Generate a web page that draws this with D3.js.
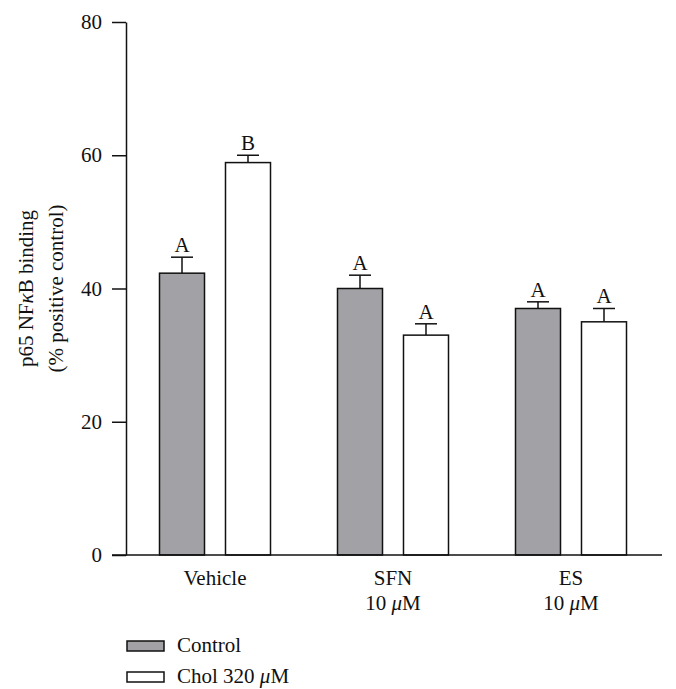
<!DOCTYPE html>
<html>
<head>
<meta charset="utf-8">
<script src="https://cdn.jsdelivr.net/npm/d3@7"></script>
<style>
  body { margin: 0; background: #fff; }
  text { font-family: "Liberation Serif", "DejaVu Serif", serif; fill: #111; }
</style>
</head>
<body>
<div class="chart"></div>
<script>
// data
const groups = ["Vehicle", "SFN", "ES"];
const groupSub = ["", "10 μM", "10 μM"];
const series = ["Control", "Chol 320 μM"];
const controlVals = [42.3, 40, 37];
const cholVals = [58.9, 33, 35];
const controlErr = [2.4, 2.0, 1.0];
const cholErr = [1.1, 1.7, 2.0];
const controlLetters = ["A", "A", "A"];
const cholLetters = ["B", "A", "A"];
const yTicks = [0, 20, 40, 60, 80];

const svgWidth = 676, svgHeight = 689;
const margin = {top: 22, left: 126, right: 16, bottom: 134};
const chartHeight = svgHeight - margin.top - margin.bottom;
const fs = "21px";

const colors = {"Control": "#a2a2a6", "Chol 320 μM": "#ffffff"};

const svg = d3.select(".chart").append("svg")
  .attr("width", svgWidth)
  .attr("height", svgHeight);

const chart = svg.append("g")
  .attr("transform", `translate(${margin.left},${margin.top})`);

const y = d3.scaleLinear().domain([0, 80]).range([chartHeight, 0]);

const x0 = d3.scaleBand().domain(groups).range([0, 534]).padding(0);
const pairWidth = 111;
const x1 = d3.scaleBand().domain(series).range([0, pairWidth]).paddingInner(0.318).paddingOuter(0);

const rows = [];
groups.forEach((g, i) => {
  rows.push({group: g, s: series[0], v: controlVals[i], e: controlErr[i], l: controlLetters[i]});
  rows.push({group: g, s: series[1], v: cholVals[i], e: cholErr[i], l: cholLetters[i]});
});
const bx = d => x0(d.group) + (x0.bandwidth() - pairWidth) / 2 + x1(d.s);

// error bars (upper only)
const capHalf = 11;
chart.selectAll(".err").data(rows).enter().append("line")
  .attr("x1", d => bx(d) + x1.bandwidth() / 2)
  .attr("x2", d => bx(d) + x1.bandwidth() / 2)
  .attr("y1", d => y(d.v))
  .attr("y2", d => y(d.v + d.e))
  .attr("stroke", "#111").attr("stroke-width", 1.5);
chart.selectAll(".cap").data(rows).enter().append("line")
  .attr("x1", d => bx(d) + x1.bandwidth() / 2 - capHalf)
  .attr("x2", d => bx(d) + x1.bandwidth() / 2 + capHalf)
  .attr("y1", d => y(d.v + d.e))
  .attr("y2", d => y(d.v + d.e))
  .attr("stroke", "#111").attr("stroke-width", 1.5);

// bars
chart.selectAll("rect.bar").data(rows).enter().append("rect")
  .attr("class", "bar")
  .attr("x", d => bx(d))
  .attr("y", d => y(d.v))
  .attr("width", x1.bandwidth())
  .attr("height", d => chartHeight - y(d.v))
  .attr("fill", d => colors[d.s])
  .attr("stroke", "#111").attr("stroke-width", 1.5);

// letters
chart.selectAll(".letter").data(rows).enter().append("text")
  .attr("x", d => bx(d) + x1.bandwidth() / 2)
  .attr("y", d => y(d.v + d.e) - 5)
  .attr("text-anchor", "middle")
  .style("font-size", fs)
  .text(d => d.l);

// axes
const leftAxis = d3.axisLeft(y).tickValues(yTicks).tickSize(14).tickPadding(10).tickSizeOuter(0);
const gy = chart.append("g").call(leftAxis);
gy.select(".domain").attr("stroke", "#111").attr("stroke-width", 1.5);
gy.selectAll(".tick line").attr("stroke", "#111").attr("stroke-width", 1.5);
gy.selectAll(".tick text").style("font-size", fs).attr("fill", "#111")
  .style("font-family", '"Liberation Serif", serif');

// x axis line from tick start to right end
chart.append("line")
  .attr("x1", -14).attr("x2", 536)
  .attr("y1", chartHeight).attr("y2", chartHeight)
  .attr("stroke", "#111").attr("stroke-width", 1.5);

// group labels
const gl = chart.selectAll(".glabel").data(groups).enter().append("text")
  .attr("text-anchor", "middle")
  .attr("transform", d => `translate(${x0(d) + x0.bandwidth() / 2},${chartHeight + 30})`)
  .style("font-size", fs);
gl.append("tspan").attr("x", 0).attr("dy", 0).text(d => d);
gl.append("tspan").attr("x", 0).attr("dy", 25)
  .html((d, i) => groupSub[i] ? '10 <tspan font-style="italic">μ</tspan>M' : "");

// y title
const yt = chart.append("text")
  .attr("transform", `translate(-93,${chartHeight / 2}) rotate(-90)`)
  .attr("text-anchor", "middle")
  .style("font-size", fs);
yt.append("tspan").attr("x", 0).attr("dy", 0)
  .html('p65 NF<tspan font-style="italic">κ</tspan>B binding');
yt.append("tspan").attr("x", 0).attr("dy", 30).text("(% positive control)");

// legend
const legend = svg.append("g").attr("transform", "translate(127,641)");
series.forEach((s, i) => {
  const row = legend.append("g").attr("transform", `translate(0,${i * 31})`);
  row.append("rect").attr("width", 37).attr("height", 10)
    .attr("fill", colors[s]).attr("stroke", "#111").attr("stroke-width", 1.5);
  const t = row.append("text").attr("x", 50).attr("y", 11).style("font-size", fs);
  if (i === 0) t.text(s);
  else t.html('Chol 320 <tspan font-style="italic">μ</tspan>M');
});
</script>
</body>
</html>
